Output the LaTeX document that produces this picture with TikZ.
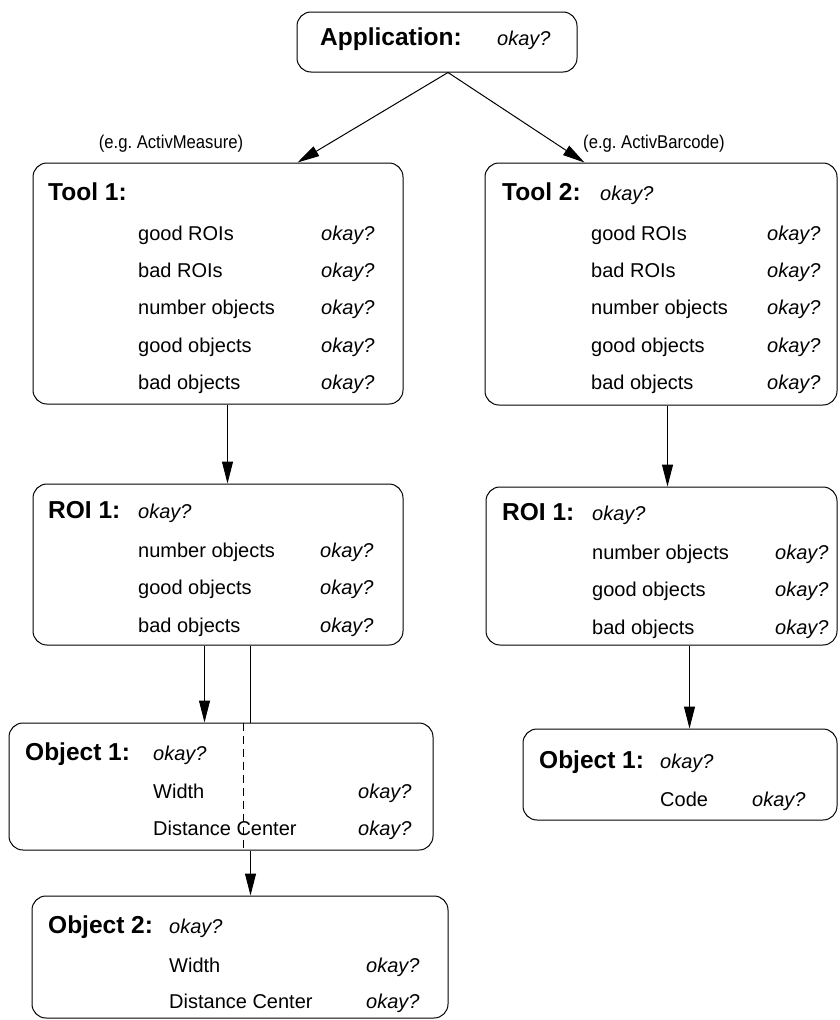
\documentclass[tikz,border=0pt]{standalone}
\usepackage{fontspec}
\usepackage{graphicx}
\setmainfont{Liberation Sans}
\usetikzlibrary{arrows.meta,calc}
\tikzset{
  box/.style={draw, line width=1pt, rounded corners=14pt, inner sep=0pt},
  hd/.style={font=\fontsize{24.5}{28}\selectfont\bfseries, anchor=base west, inner sep=0pt},
  ok/.style={font=\fontsize{20}{24}\selectfont\itshape, anchor=base west, inner sep=0pt},
  tx/.style={font=\fontsize{20}{24}\selectfont, anchor=base west, inner sep=0pt},
  lbl/.style={font=\fontsize{18.5}{20}\selectfont, anchor=base, inner sep=0pt},
  arr/.style={line width=1pt, -{Triangle[length=22pt,width=11pt]}},
  conn/.style={line width=1pt},
  dconn/.style={line width=1pt, dash pattern=on 8pt off 5pt}
}
\newcommand\prow[6]{%
  \node[tx] (#1-l) at (#2,#4) {#6};
  \node[ok] (#1-r) at (#3,#4) {okay?};
}
\begin{document}
\begin{tikzpicture}[x=1pt,y=-1pt]
\useasboundingbox (0,0) rectangle (839,1020);
% boxes
\node[box, minimum width=280pt, minimum height=60pt] (app) at (437,42) {};
\node[box, minimum width=370pt, minimum height=241pt] (tool1) at (218,283.5) {};
\node[box, minimum width=352pt, minimum height=242pt] (tool2) at (661,284) {};
\node[box, minimum width=370pt, minimum height=161pt] (roi1) at (218,564.5) {};
\node[box, minimum width=351pt, minimum height=158pt] (roi2) at (661.5,566) {};
\node[box, minimum width=424pt, minimum height=127pt] (obj1) at (221,786.5) {};
\node[box, minimum width=416pt, minimum height=122pt] (obj2) at (240,957) {};
\node[box, minimum width=314pt, minimum height=91pt] (obj3) at (680,774.5) {};

% Application
\node[hd] (apph) at (320,45) {Application:};
\node[ok] (appo) at (497,45) {okay?};

% labels
\node[lbl] (lab1) at (171,148) {\scalebox{0.9}[1]{(e.g.\ ActivMeasure)}};
\node[lbl] (lab2) at (654,148) {\scalebox{0.9}[1]{(e.g.\ ActivBarcode)}};

% Tool 1
\node[hd] (t1h) at (48,200) {Tool 1:};
\prow{t1a}{138}{321}{240}{}{good ROIs}
\prow{t1b}{138}{321}{277}{}{bad ROIs}
\prow{t1c}{138}{321}{314}{}{number objects}
\prow{t1d}{138}{321}{352}{}{good objects}
\prow{t1e}{138}{321}{389}{}{bad objects}

% Tool 2
\node[hd] (t2h) at (502,200) {Tool 2:};
\node[ok] (t2o) at (600,200) {okay?};
\prow{t2a}{591}{767}{240}{}{good ROIs}
\prow{t2b}{591}{767}{277}{}{bad ROIs}
\prow{t2c}{591}{767}{314}{}{number objects}
\prow{t2d}{591}{767}{352}{}{good objects}
\prow{t2e}{591}{767}{389}{}{bad objects}

% ROI 1 left
\node[hd] (r1h) at (48,518) {ROI 1:};
\node[ok] (r1o) at (138,518) {okay?};
\prow{r1a}{138}{320}{557}{}{number objects}
\prow{r1b}{138}{320}{594}{}{good objects}
\prow{r1c}{138}{320}{632}{}{bad objects}

% ROI 1 right
\node[hd] (r2h) at (502,520) {ROI 1:};
\node[ok] (r2o) at (592,520) {okay?};
\prow{r2a}{592}{775}{559}{}{number objects}
\prow{r2b}{592}{775}{596}{}{good objects}
\prow{r2c}{592}{775}{634}{}{bad objects}

% Object 1 left
\node[hd] (o1h) at (25,760) {Object 1:};
\node[ok] (o1o) at (153,760) {okay?};
\prow{o1a}{153}{358}{798}{}{Width}
\prow{o1b}{153}{358}{835}{}{Distance Center}

% Object 2
\node[hd] (o2h) at (48,933) {Object 2:};
\node[ok] (o2o) at (169,933) {okay?};
\prow{o2a}{169}{366}{972}{}{Width}
\prow{o2b}{169}{366}{1008}{}{Distance Center}

% Object 1 right
\node[hd] (o3h) at (539,768) {Object 1:};
\node[ok] (o3o) at (660,768) {okay?};
\prow{o3a}{660}{752}{806}{}{Code}

% connectors
\draw[arr] ($(app.south)+(11,0)$) -- ($(tool1.north west)+(265,0)$);
\draw[arr] ($(app.south)+(11,0)$) -- ($(tool2.north west)+(100,0)$);
\draw[arr] ($(tool1.south west)+(195,0)$) -- ($(roi1.north west)+(195,0)$);
\draw[arr] ($(tool2.south west)+(183,0)$) -- ($(roi2.north west)+(182,0)$);
\draw[arr] ($(roi1.south west)+(172,0)$) -- ($(obj1.north west)+(196,0)$);
\draw[conn] ($(roi1.south west)+(218,0)$) -- ($(obj1.north west)+(242,0)$);
\draw[dconn] ($(obj1.north west)+(235,0)$) -- ($(obj1.south west)+(235,0)$);
\draw[arr] ($(obj1.south west)+(242,0)$) -- ($(obj2.north west)+(219,0)$);
\draw[arr] ($(roi2.south west)+(204,0)$) -- ($(obj3.north west)+(167,0)$);
\end{tikzpicture}
\end{document}
